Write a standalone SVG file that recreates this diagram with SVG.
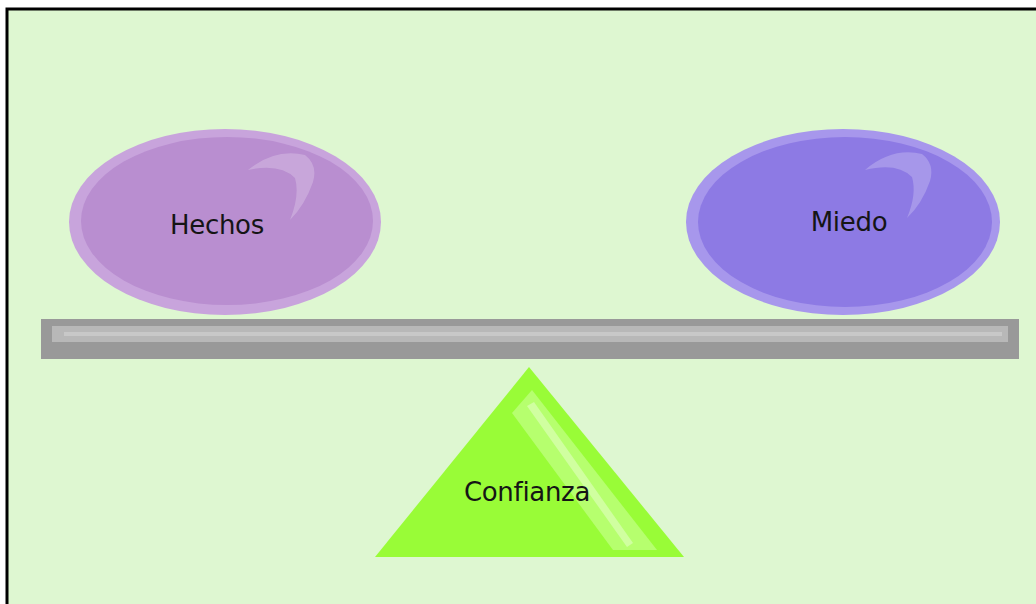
<svg xmlns="http://www.w3.org/2000/svg" width="1036" height="604" viewBox="0 0 1036 604">
<style>
.lbl{font-family:"DejaVu Sans","Liberation Sans",sans-serif;font-size:26px;fill:#151515;text-anchor:middle;letter-spacing:-0.3px}
.shine{fill:#ffffff;fill-opacity:0.22}
</style>
<rect x="0" y="0" width="1036" height="604" fill="#ffffff"/>
<rect x="7" y="9" width="1040" height="610" fill="#def7d1" stroke="#000000" stroke-width="3"/>
<g id="beam">
<rect x="41" y="319" width="978" height="40" fill="#999999"/>
<rect x="52" y="326" width="956" height="16" fill="#b8b8b8"/>
<rect x="64" y="332" width="938" height="4" fill="#c8c8c8"/>
</g>
<g id="hechos">
<ellipse cx="225" cy="222" rx="156" ry="93" fill="#c8a4dc"/>
<ellipse cx="227" cy="221" rx="146" ry="84" fill="#b98ed0"/>
<path class="shine" d="M248,170 Q275,148 305,155 Q318,165 313,182 Q305,205 290,220 Q300,195 295,178 Q280,163 248,170 Z"/>
<text class="lbl" x="217" y="234">Hechos</text>
</g>
<g id="miedo">
<ellipse cx="843" cy="222" rx="157" ry="93" fill="#a797ec"/>
<ellipse cx="845" cy="222" rx="147" ry="85" fill="#8d7ae4"/>
<path class="shine" d="M865,170 Q892,147 922,154 Q935,164 930,181 Q922,204 907,218 Q917,194 912,177 Q897,162 865,170 Z"/>
<text class="lbl" x="849" y="231">Miedo</text>
</g>
<g id="confianza">
<polygon points="529,367 375,557 684,557" fill="#99fc37"/>
<polygon points="512,413 532,390 657,550 613,550" fill="#b6ff6e"/>
<polygon points="527,406 534,402 633,543 627,547" fill="#d0ffa0"/>
<text class="lbl" x="527" y="501">Confianza</text>
</g>
<g id="connectors"/>
</svg>
